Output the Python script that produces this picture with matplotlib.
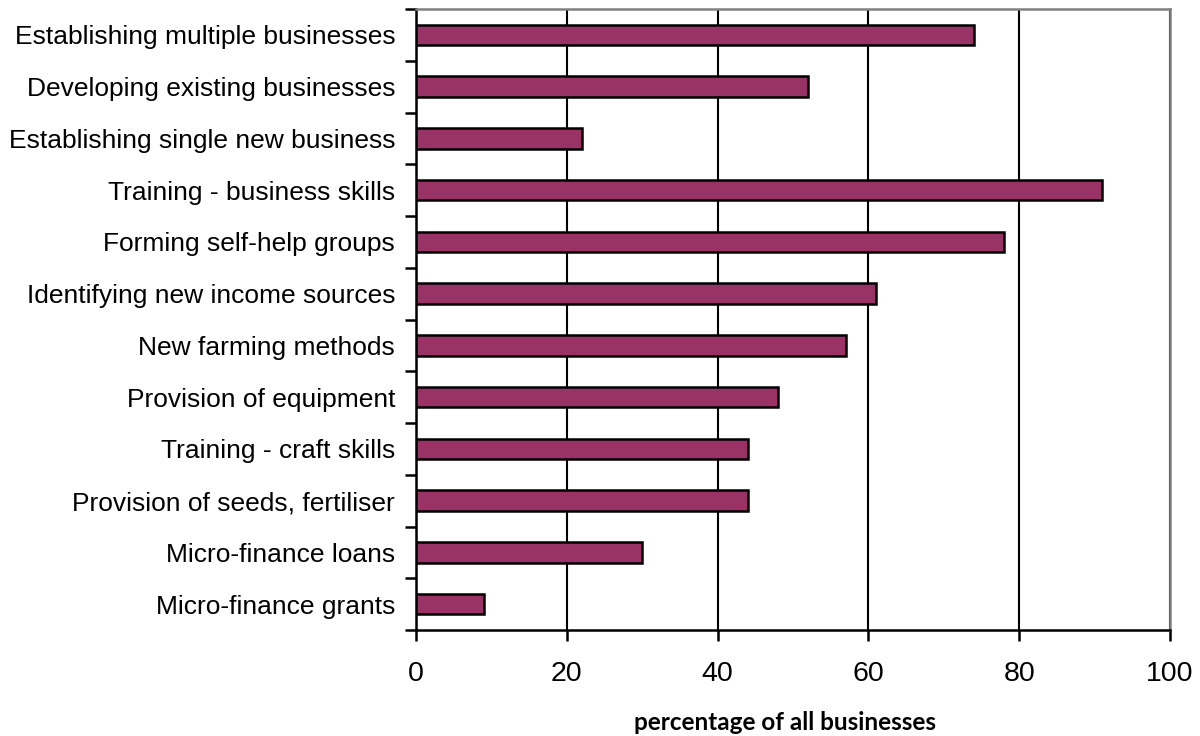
import numpy as np
import matplotlib
matplotlib.use("Agg")
import matplotlib.pyplot as plt

categories = [
    "Establishing multiple businesses",
    "Developing existing businesses",
    "Establishing single new business",
    "Training - business skills",
    "Forming self-help groups",
    "Identifying new income sources",
    "New farming methods",
    "Provision of equipment",
    "Training - craft skills",
    "Provision of seeds, fertiliser",
    "Micro-finance loans",
    "Micro-finance grants",
]
values = [74, 52, 22, 91, 78, 61, 57, 48, 44, 44, 30, 9]
x_ticks = [0, 20, 40, 60, 80, 100]

plt.rcParams['font.family'] = ['Liberation Sans', 'DejaVu Sans']

fig = plt.figure(figsize=(12, 7.36), dpi=100)
ax = fig.add_axes([416 / 1200, 1 - 630 / 736, (1170 - 416) / 1200, (630 - 9) / 736])

y = np.arange(len(categories))[::-1]
ax.barh(y, values, height=0.4, color="#993366", edgecolor="black", linewidth=1.8, zorder=3)

ax.set_xlim(0, 100)
ax.set_ylim(-0.5, len(categories) - 0.5)
ax.set_xticks(x_ticks)
ax.set_xticklabels([str(t) for t in x_ticks], fontsize=20.5)
ax.tick_params(axis='x', length=8, width=1.8, pad=14)

ax.set_yticks(y)
ax.set_yticklabels(categories, fontsize=19)
ax.tick_params(axis='y', which='major', length=0, pad=15)
ax.set_yticks(np.arange(-0.5, len(categories)), minor=True)
ax.tick_params(axis='y', which='minor', length=8, width=1.8)

ax.grid(axis='x', color='black', linewidth=1.5, zorder=0)
for s in ['left', 'bottom']:
    ax.spines[s].set_linewidth(1.8)
    ax.spines[s].set_color('black')
for s in ['top', 'right']:
    ax.spines[s].set_linewidth(1.8)
    ax.spines[s].set_color('#808080')

fig.text(785 / 1200, 1 - 722 / 736, "percentage of all businesses", ha='center', va='center',
         fontsize=17.5, fontweight='bold', family=['Lato', 'DejaVu Sans'])

fig.savefig("out.png", dpi=100)
